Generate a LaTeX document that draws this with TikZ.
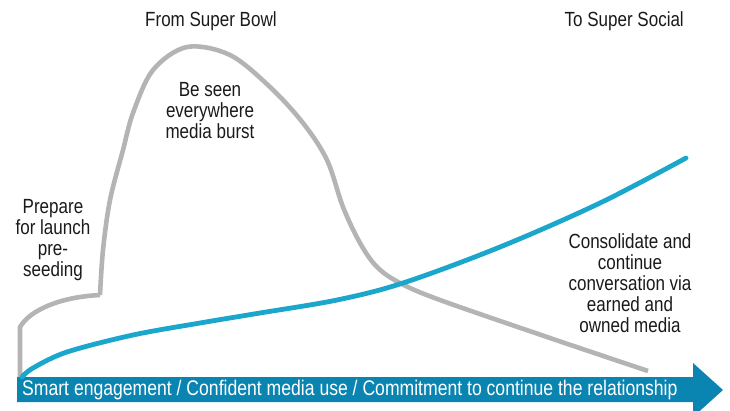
\documentclass[tikz,border=0pt]{standalone}
\usepackage{fontspec}
\setmainfont{Liberation Sans}[FakeStretch=0.83]
\definecolor{curvegrey}{HTML}{B4B4B4}
\definecolor{growthblue}{HTML}{1BA6CC}
\definecolor{bandblue}{HTML}{0A84B0}
\definecolor{inktext}{HTML}{1A1A1A}
\begin{document}
\begin{tikzpicture}[x=1pt,y=-1pt,
  label/.style={inner sep=0pt, text=inktext, font=\fontsize{20.5}{21.2}\selectfont, align=center},
  bandlabel/.style={inner sep=0pt, text=white, font=\fontsize{21.2}{22}\selectfont},
  burst/.style={draw=curvegrey, line width=4.6pt, line join=round},
  growth/.style={draw=growthblue, line width=4.8pt, line cap=round}]
\useasboundingbox (0,0) rectangle (730,410);
\clip (0,0) rectangle (730,410);

% timeline arrow along the bottom
\fill[bandblue] (17,377) -- (693,377) -- (693,363) -- (723,390) -- (693,417) -- (693,402) -- (17,402) -- cycle;
\node[bandlabel, anchor=base west] (band) at (22,395.5) {Smart engagement / Confident media use / Commitment to continue the relationship};

% launch-and-burst curve
\draw[burst] (20,377) -- (20,327) .. controls (30,310) and (60,297) .. (100,295)
  plot[smooth, tension=0.55] coordinates {(100,295) (103,250) (110,200) (123,150) (133,113) (153,70) (187,47) (230,55) (270,87) (303,123) (327,160) (343,207) (360,243) (377,267) (400,283) (440,300) (550,338) (648,371)};

% steady social growth curve
\draw[growth] plot[smooth, tension=0.55] coordinates {(22,377) (33,368) (67,352) (133,335) (200,323) (260,313) (337,300) (403,283) (500,247) (600,203) (686,158)};

% headings and phase labels
\node[label, anchor=base west] (from) at (145,26.7) {From Super Bowl};
\node[label, anchor=base east] (to) at (684,26.7) {To Super Social};
\node[label, anchor=north] (burstlbl) at (210,82) {Be seen\\everywhere\\media burst};
\node[label, anchor=north] (prep) at (53,199) {Prepare\\for launch\\pre-\\seeding};
\node[label, anchor=north] (consol) at (630,233) {Consolidate and\\continue\\conversation via\\earned and\\owned media};
\end{tikzpicture}
\end{document}
